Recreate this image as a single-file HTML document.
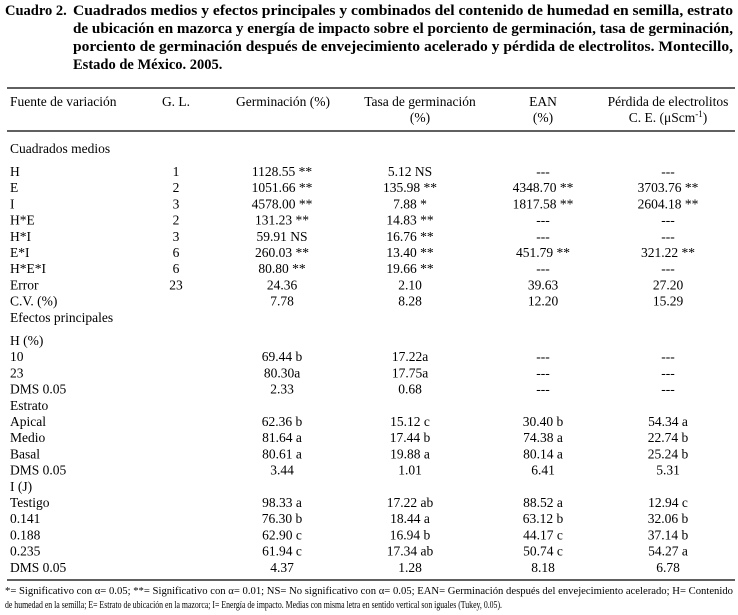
<!DOCTYPE html>
<html><head><meta charset="utf-8"><style>
html,body{margin:0;padding:0;background:#fff}
svg{display:block;font-family:"Liberation Serif",serif;fill:#000}
</style></head><body>
<svg id="t" width="738" height="615" viewBox="0 0 738 615" xmlns="http://www.w3.org/2000/svg">
<g font-weight="bold" font-size="14.5">
<text x="5" y="15">Cuadro 2.</text>
<text x="73" y="15" textLength="660" lengthAdjust="spacingAndGlyphs">Cuadrados medios y efectos principales y combinados del contenido de humedad en semilla, estrato</text>
<text x="73" y="33" textLength="660" lengthAdjust="spacingAndGlyphs">de ubicación en mazorca y energía de impacto sobre el porciento de germinación, tasa de germinación,</text>
<text x="73" y="51" textLength="660" lengthAdjust="spacingAndGlyphs">porciento de germinación después de envejecimiento acelerado y pérdida de electrolitos. Montecillo,</text>
<text x="73" y="69">Estado de México. 2005.</text>
</g>
<line x1="7" x2="735" y1="88" y2="88" stroke="#000" stroke-width="1.3"/>
<g font-size="13.5" text-anchor="middle">
<text x="10" y="106" text-anchor="start">Fuente de variación</text>
<text x="176" y="106">G. L.</text>
<text x="283" y="106">Germinación (%)</text>
<text x="420" y="106">Tasa de germinación</text>
<text x="420" y="122">(%)</text>
<text x="543" y="106">EAN</text>
<text x="543" y="122">(%)</text>
<text x="668" y="106">Pérdida de electrolitos</text>
<text x="668" y="122">C. E. (μScm<tspan dy="-5" font-size="9">-1</tspan><tspan dy="5">)</tspan></text>
</g>
<line x1="7" x2="735" y1="131" y2="131" stroke="#000" stroke-width="1.3"/>
<text x="10" y="153" font-size="13.5">Cuadrados medios</text>
<g id="rows"></g>
<line x1="7" x2="735" y1="580" y2="580" stroke="#000" stroke-width="1.3"/>
<g font-size="11">
<text x="5" y="594" textLength="728" lengthAdjust="spacingAndGlyphs">*= Significativo con α= 0.05; **= Significativo con α= 0.01; NS= No significativo con α= 0.05; EAN= Germinación después del envejecimiento acelerado; H= Contenido</text>
<text x="5" y="608" textLength="497" lengthAdjust="spacingAndGlyphs">de humedad en la semilla; E= Estrato de ubicación en la mazorca; I= Energía de impacto. Medias con misma letra en sentido vertical son iguales (Tukey, 0.05).</text>
</g>
</svg>
<script>
const rowLabels=["H","E","I","H*E","H*I","E*I","H*E*I","Error","C.V. (%)","Efectos principales","H (%)","10","23","DMS 0.05","Estrato","Apical","Medio","Basal","DMS 0.05","I (J)","Testigo","0.141","0.188","0.235","DMS 0.05"];
const glCol=["1","2","3","2","3","6","6","23","","","","","","","","","","","","","","","","",""];
const germCol=["1128.55 **","1051.66 **","4578.00 **","131.23 **","59.91 NS","260.03 **","80.80 **","24.36","7.78","","","69.44 b","80.30a","2.33","","62.36 b","81.64 a","80.61 a","3.44","","98.33 a","76.30 b","62.90 c","61.94 c","4.37"];
const tasaCol=["5.12 NS","135.98 **","7.88 *","14.83 **","16.76 **","13.40 **","19.66 **","2.10","8.28","","","17.22a","17.75a","0.68","","15.12 c","17.44 b","19.88 a","1.01","","17.22 ab","18.44 a","16.94 b","17.34 ab","1.28"];
const eanCol=["---","4348.70 **","1817.58 **","---","---","451.79 **","---","39.63","12.20","","","---","---","---","","30.40 b","74.38 a","80.14 a","6.41","","88.52 a","63.12 b","44.17 c","50.74 c","8.18"];
const perdCol=["---","3703.76 **","2604.18 **","---","---","321.22 **","---","27.20","15.29","","","---","---","---","","54.34 a","22.74 b","25.24 b","5.31","","12.94 c","32.06 b","37.14 b","54.27 a","6.78"];
const NS="http://www.w3.org/2000/svg";
const g=document.getElementById('rows');
function yOf(i){return i<10?176+i*16.2:345+(i-10)*16.2;}
const cols=[[glCol,176,'gl'],[germCol,282,'germinacion'],[tasaCol,410,'tasa'],[eanCol,543,'ean'],[perdCol,668,'perdida']];
rowLabels.forEach((lab,i)=>{
  const y=yOf(i);
  const t=document.createElementNS(NS,'text');
  
  
  t.setAttribute('x',10);t.setAttribute('y',y);t.setAttribute('font-size','13.5');
  t.textContent=lab;g.appendChild(t);
  cols.forEach(([arr,x,nm])=>{
    if(!arr[i])return;
    const c=document.createElementNS(NS,'text');
    
    
    c.setAttribute('x',x);c.setAttribute('y',y);c.setAttribute('font-size','13.5');
    c.setAttribute('text-anchor','middle');
    c.textContent=arr[i];g.appendChild(c);
  });
});
</script>
</body></html>
